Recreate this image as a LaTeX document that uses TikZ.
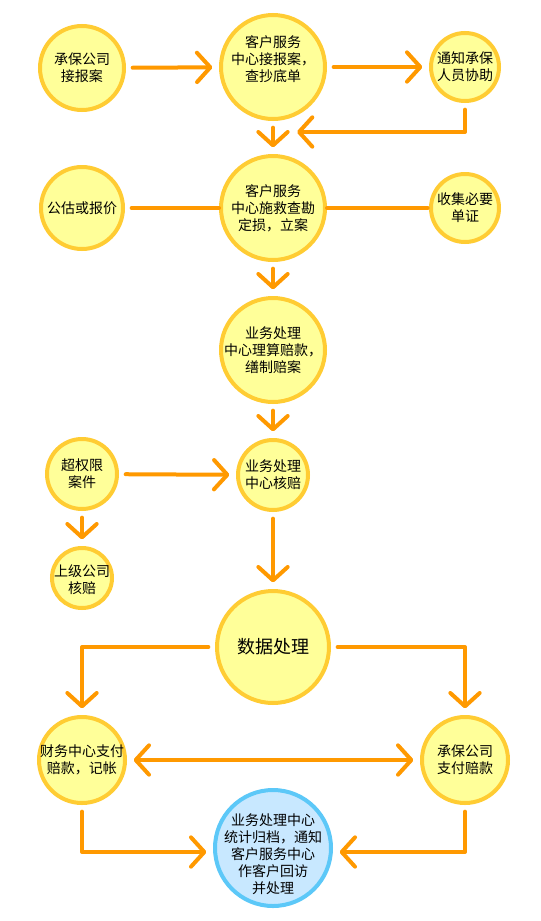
\documentclass[tikz,border=0pt]{standalone}
\usepackage{fontspec}
\setmainfont{Noto Sans CJK SC}
\usetikzlibrary{arrows.meta}
\definecolor{cfill}{HTML}{FFFF99}
\definecolor{cline}{HTML}{FFCC33}
\definecolor{carrow}{HTML}{FF9900}
\definecolor{bfill}{HTML}{C8E8FF}
\definecolor{bline}{HTML}{5CC8F8}
\tikzset{
 bub/.style={circle, draw=cline, fill=cfill, line width=3pt, minimum size=#1, inner sep=0pt},
 bluebub/.style={circle, draw=bline, fill=bfill, line width=3pt, minimum size=#1, inner sep=0pt},
 txt/.style={align=center, font=\fontsize{10.5pt}{12.75pt}\selectfont, inner sep=0pt},
 bigtxt/.style={align=center, font=\fontsize{13.5pt}{16pt}\selectfont, inner sep=0pt},
 conn/.style={draw=carrow, line width=3pt, line cap=round, line join=round},
 tipb/.tip={Straight Barb[length=10pt,width=22pt,round]},
 arr/.style={conn, -tipb, shorten <=5pt, shorten >=5pt},
 darr/.style={conn, tipb-tipb, shorten <=5pt, shorten >=5pt},
}
\begin{document}
\begin{tikzpicture}[x=0.75pt,y=-0.75pt]
\fill[white] (0,0) rectangle (541,921);
\useasboundingbox (0,0) rectangle (541,921);
% row 1
\node[bub=63pt, label={[txt]center:承保公司\\接报案}] (A) at (82,68) {};
\node[bub=78pt, label={[txt,yshift=6pt]center:客户服务\\中心接报案，\\查抄底单}] (B) at (273,67) {};
\node[bub=51pt, label={[txt]center:通知承保\\人员协助}] (C) at (465,67) {};
% row 2
\node[bub=61.5pt, label={[txt]center:公估或报价}] (E) at (82,208) {};
\node[bub=78pt, label={[txt]center:客户服务\\中心施救查勘\\定损，立案}] (D) at (273,208) {};
\node[bub=51pt, label={[txt]center:收集必要\\单证}] (F) at (465,208) {};
% row 3
\node[bub=78pt, label={[txt]center:业务处理\\中心理算赔款，\\缮制赔案}] (G) at (273,350) {};
% row 4
\node[bub=52.5pt, label={[txt]center:超权限\\案件}] (I) at (82,474) {};
\node[bub=52.5pt, label={[txt]center:业务处理\\中心核赔}] (H) at (273,475) {};
\node[bub=45pt, label={[txt,yshift=-1.5pt]center:上级公司\\核赔}] (J) at (82,578) {};
% data
\node[bub=84pt, label={[bigtxt]center:数据处理}] (K) at (273,647) {};
\node[bub=64.5pt, label={[txt]center:财务中心支付\\赔款，记帐}] (L) at (82,760) {};
\node[bub=64.5pt, label={[txt]center:承保公司\\支付赔款}] (M) at (465,760) {};
\node[bluebub=87pt, label={[txt,yshift=-5pt]center:业务处理中心\\统计归档，通知\\客户服务中心\\作客户回访\\并处理}] (N) at (273,848) {};
% connectors
\coordinate (m1) at (297,132);
\draw[arr] (A) -- (B);
\draw[arr] (B) -- (C);
\draw[arr, shorten >=0pt] (C.south) |- (m1);
\draw[arr] (B) -- (D);
\draw[conn, shorten <=5pt] (E) -- (D);
\draw[conn, shorten >=1pt] (D) -- (F);
\draw[arr] (D) -- (G);
\draw[arr] (G) -- (H);
\draw[arr] (I) -- (H);
\draw[arr] (I) -- (J);
\draw[arr] (H) -- (K);
\draw[arr] (K.west) -| (L.north);
\draw[arr] (K.east) -| (M.north);
\draw[darr] (L) -- (M);
\draw[arr] (L.south) |- ([yshift=-3pt]N.west);
\draw[arr] (M.south) |- ([yshift=-3pt]N.east);
\end{tikzpicture}
\end{document}
